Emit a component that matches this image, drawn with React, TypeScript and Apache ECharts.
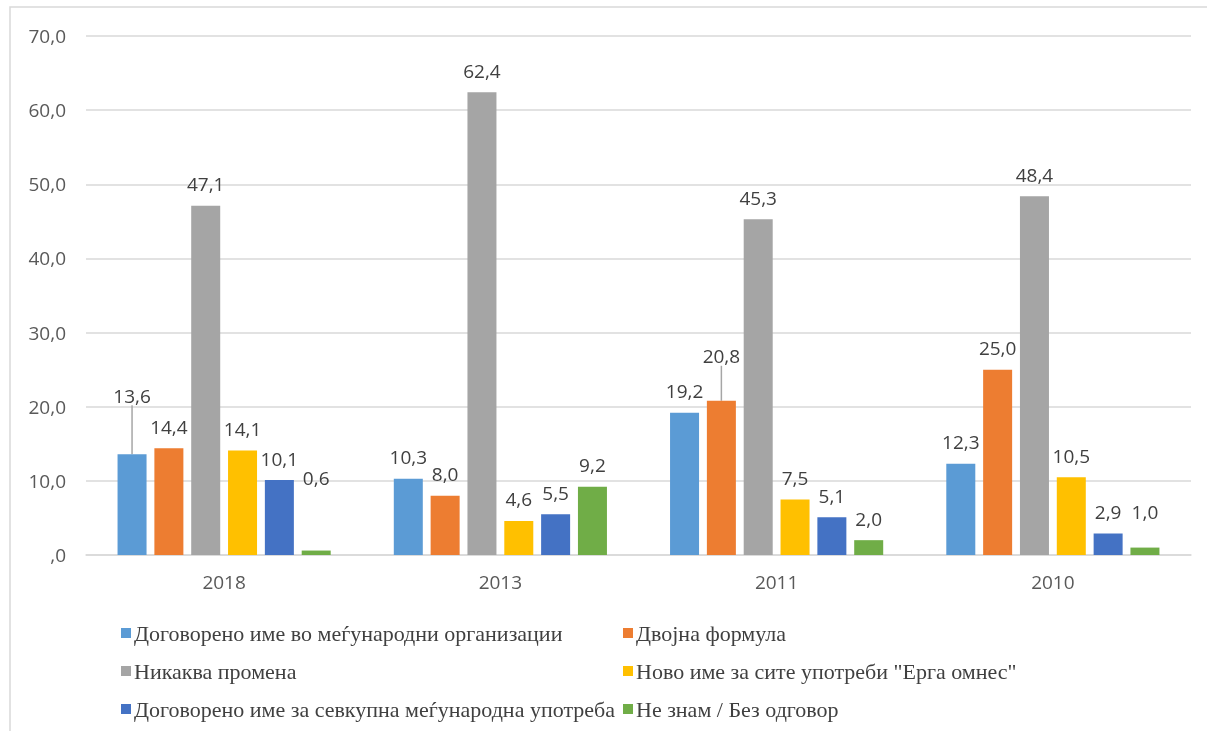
import React, { useEffect, useRef } from "react";
import * as echarts from "echarts";

const years = ["2018", "2013", "2011", "2010"];
const seriesNames = [
  "Договорено име во меѓународни организации",
  "Двојна формула",
  "Никаква промена",
  "Ново име за сите употреби \"Ерга омнес\"",
  "Договорено име за севкупна меѓународна употреба",
  "Не знам / Без одговор",
];
const agreedIntl = [13.6, 10.3, 19.2, 12.3];
const doubleFormula = [14.4, 8.0, 20.8, 25.0];
const noChange = [47.1, 62.4, 45.3, 48.4];
const ergaOmnes = [14.1, 4.6, 7.5, 10.5];
const agreedAll = [10.1, 5.5, 5.1, 2.9];
const dontKnow = [0.6, 9.2, 2.0, 1.0];
const colors = ["#5B9BD5", "#ED7D31", "#A5A5A5", "#FFC000", "#4472C4", "#70AD47"];
const yTicks = [0, 10, 20, 30, 40, 50, 60, 70];

// manual label shifts (series-data) as in the original Excel chart
const labelShift: Record<string, number> = { "0-0": -37, "1-2": -23, "5-0": -51, "5-3": -14 };
const withLine = ["0-0", "1-2"];

const fmt = (v: number) => {
  const s = v.toFixed(1).replace(".", ",");
  return v === 0 ? s.slice(1) : s;
};

export default function App() {
  const ref = useRef<HTMLDivElement>(null);
  useEffect(() => {
    if (!ref.current) return;
    const chart = echarts.init(ref.current, undefined, { renderer: "svg" });
    const all = [agreedIntl, doubleFormula, noChange, ergaOmnes, agreedAll, dontKnow];
    const labelFont = { fontFamily: "Open Sans", fontSize: 19, color: "#404040" };
    const legendText = {
      fontFamily: "Liberation Serif",
      fontSize: 22,
      color: "#404040",
      padding: [0, 0, 0, -2],
      lineHeight: 22,
    };
    chart.setOption({
      animation: false,
      graphic: [
        {
          type: "rect",
          shape: { x: 10, y: 7, width: 1230, height: 760 },
          style: { fill: "none", stroke: "#D9D9D9", lineWidth: 1.5 },
          silent: true,
        },
      ],
      grid: { left: 86, right: 16, top: 36, bottom: 176 },
      legend: [
        {
          data: [seriesNames[0], seriesNames[2], seriesNames[4]],
          orient: "vertical",
          left: 116,
          top: 617,
          itemWidth: 10,
          itemHeight: 10,
          itemGap: 16,
          icon: "rect",
          textStyle: legendText,
        },
        {
          data: [seriesNames[1], seriesNames[3], seriesNames[5]],
          orient: "vertical",
          left: 618,
          top: 617,
          itemWidth: 10,
          itemHeight: 10,
          itemGap: 16,
          icon: "rect",
          textStyle: legendText,
        },
      ],
      xAxis: {
        type: "category",
        data: years,
        axisLine: { lineStyle: { color: "#D9D9D9", width: 1.5 } },
        axisTick: { show: false },
        axisLabel: { fontFamily: "Open Sans", fontSize: 19, color: "#595959", margin: 17 },
      },
      yAxis: {
        type: "value",
        min: 0,
        max: 70,
        interval: 10,
        axisLine: { show: false },
        axisTick: { show: false },
        splitLine: { lineStyle: { color: "#D9D9D9", width: 1.5 } },
        axisLabel: {
          fontFamily: "Open Sans",
          fontSize: 19,
          color: "#595959",
          margin: 20,
          formatter: (v: number) => (yTicks.includes(v) ? fmt(v) : ""),
        },
      },
      series: all.map((vals, si) => ({
        name: seriesNames[si],
        type: "bar",
        barWidth: 29,
        barGap: "27%",
        itemStyle: { color: colors[si] },
        label: {
          show: true,
          position: "top",
          distance: 12,
          ...labelFont,
          formatter: (p: any) => fmt(p.value),
        },
        labelLayout: (p: any) => {
          const k = `${si}-${p.dataIndex}`;
          return labelShift[k] ? { dy: labelShift[k] } : {};
        },
        data: vals.map((v, di) =>
          withLine.includes(`${si}-${di}`)
            ? { value: v, labelLine: { show: true, lineStyle: { color: "#A6A6A6", width: 1.5 } } }
            : v
        ),
      })),
    });
    return () => chart.dispose();
  }, []);
  return <div ref={ref} style={{ position: "fixed", left: 0, top: 0, width: 1207, height: 731 }} />;
}
